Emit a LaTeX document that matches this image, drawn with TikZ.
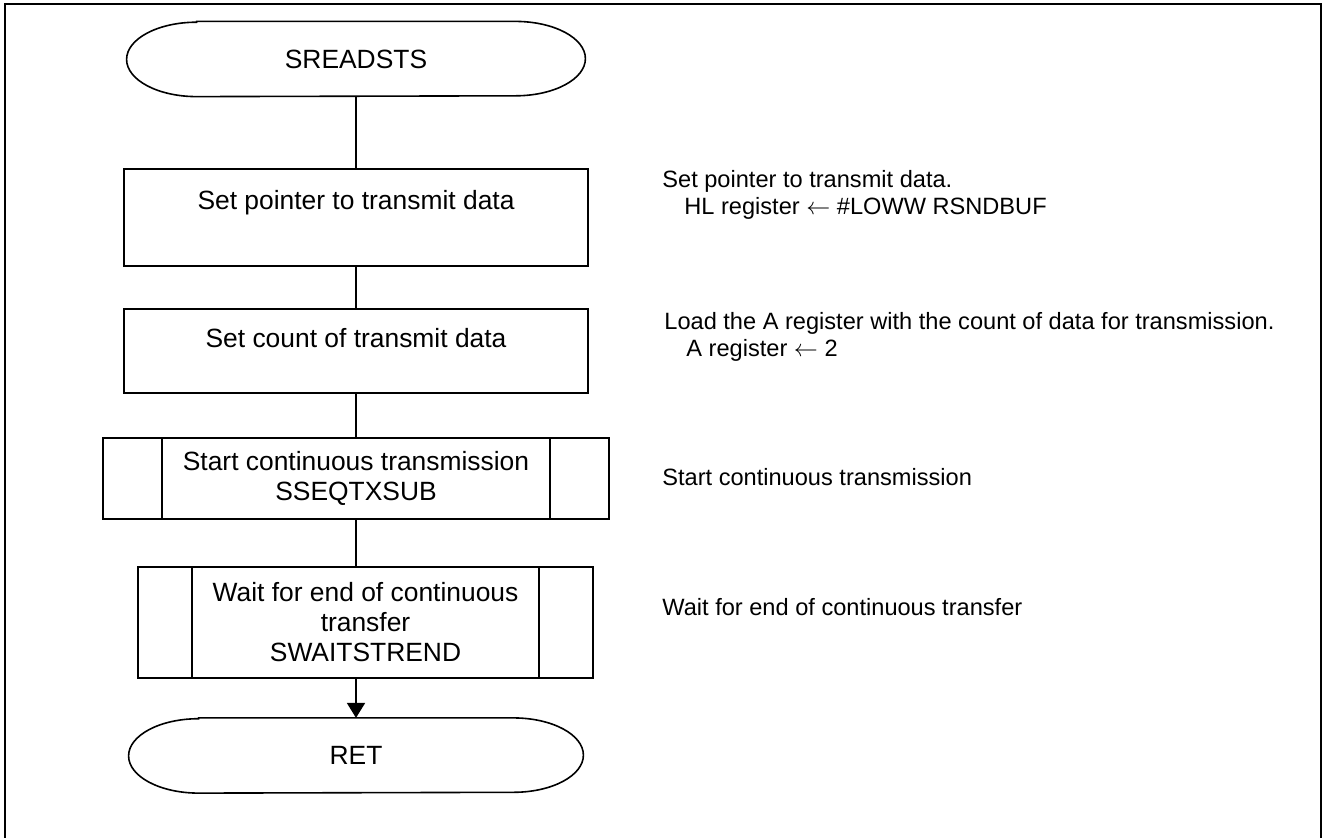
\documentclass[tikz,border=0pt]{standalone}
\usepackage{fontspec}
\setmainfont{Liberation Sans}
\usepackage{tikz}
\usetikzlibrary{arrows.meta}

\newcommand{\boxfont}{\fontsize{13.2pt}{15pt}\selectfont}
\newcommand{\notefont}{\fontsize{11.8pt}{13.5pt}\selectfont}

% outline of a start / end symbol
\newcommand{\termoutline}[1]{%
  \draw[line width=0.8pt] ([xshift=35pt]#1.north west) -- ([xshift=-35pt]#1.north east)
    arc[start angle=90, end angle=-90, x radius=35pt, y radius=18.6pt]
    -- ([xshift=35pt]#1.south west)
    arc[start angle=270, end angle=90, x radius=35pt, y radius=18.6pt] -- cycle;}
% side bars of a subroutine box
\newcommand{\subbars}[2]{%
  \draw[line width=0.9pt] ([xshift=#2]#1.north west) -- ([xshift=#2]#1.south west);
  \draw[line width=0.9pt] ([xshift=-#2]#1.north east) -- ([xshift=-#2]#1.south east);}

\tikzset{
  term/.style={inner sep=0pt, minimum width=229pt, minimum height=37.2pt, font=\boxfont},
  procbox/.style={draw, line width=0.9pt, inner sep=0pt, align=center, font=\boxfont},
  note/.style={anchor=west, inner sep=0pt, align=left, font=\notefont},
  flow/.style={line width=0.9pt}
}

\begin{document}
\begin{tikzpicture}[x=0.5pt, y=-0.5pt]
  \useasboundingbox (0,0) rectangle (1324,837);
  % frame
  \draw[line width=1.3pt] (5,4) rectangle (1321,870);

  % flow
  \node[term] (start) at (356,59) {SREADSTS};
  \termoutline{start}
  \node[procbox, minimum width=232pt, minimum height=48.5pt] (ptr) at (356,217.5) {Set pointer to transmit data\\[-2pt]\strut};
  \node[procbox, minimum width=232pt, minimum height=42pt] (cnt) at (356,351) {Set count of transmit data\\[-6pt]\strut};
  \node[procbox, minimum width=253pt, minimum height=40.5pt] (txsub) at (356,478.5) {Start continuous transmission\\SSEQTXSUB};
  \subbars{txsub}{30pt}
  \node[procbox, minimum width=227.5pt, minimum height=55.5pt] (wait) at (365.5,622.5) {Wait for end of continuous\\transfer\\SWAITSTREND};
  \subbars{wait}{27.5pt}
  \node[term, minimum width=227pt] (ret) at (356,755.5) {RET};
  \termoutline{ret}

  \draw[flow] (start) -- (ptr);
  \draw[flow] (ptr) -- (cnt);
  \draw[flow] (cnt) -- (txsub);
  \draw[flow] (txsub.south) -- (txsub.south |- wait.north);
  \draw[flow, -{Triangle[length=7.5pt, width=9pt]}] (txsub.south |- wait.south) -- (ret.north);

  % notes
  \node[note] (n1) at (662,194.5) {Set pointer to transmit data.\\\hspace*{11pt}HL register $\leftarrow$ \#LOWW RSNDBUF};
  \node[note] (n2) at (664,337) {Load the A register with the count of data for transmission.\\\hspace*{11pt}A register $\leftarrow$ 2};
  \node[note] (n3) at (662,477) {Start continuous transmission};
  \node[note] (n4) at (662,607) {Wait for end of continuous transfer};
\end{tikzpicture}
\end{document}
